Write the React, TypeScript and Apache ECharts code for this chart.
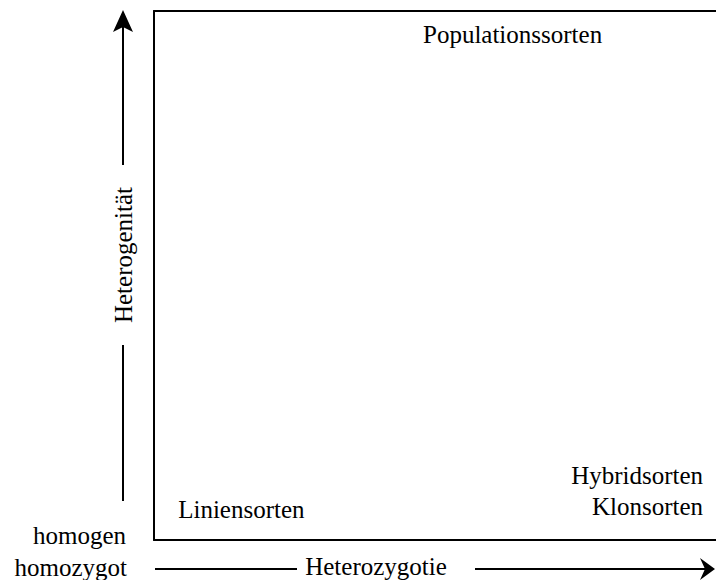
import React, { useEffect, useRef } from "react";
import * as echarts from "echarts";

// Conceptual placement of cultivar types (0–100 on both axes)
const categories = ["Liniensorten", "Populationssorten", "Hybridsorten", "Klonsorten"];
const heterozygosity = [4.3, 63.8, 97.7, 97.7];
const heterogeneity = [5.8, 95.6, 12.2, 6.4];

const xAxisName = "Heterozygotie";
const yAxisName = "Heterogenität";
const xStartLabel = "homozygot";
const yStartLabel = "homogen";

const FONT = "'Liberation Serif', 'Times New Roman', serif";

export default function App() {
  const ref = useRef<HTMLDivElement>(null);

  useEffect(() => {
    if (!ref.current) return;
    const chart = echarts.init(ref.current, undefined, { renderer: "svg" });

    const data = categories.map((name, i) => {
      const x = heterozygosity[i];
      const align = x < 20 ? "left" : x > 80 ? "right" : "center";
      return {
        name,
        value: [x, heterogeneity[i]],
        label: { align },
      };
    });

    const lineStyle = { stroke: "#000", lineWidth: 2 };
    const textStyle = (text: string, align: string) => ({
      text,
      fill: "#000",
      fontSize: 25,
      fontFamily: FONT,
      textAlign: align,
      align,
      textVerticalAlign: "middle",
      verticalAlign: "middle",
    });

    const axisLine = { show: true, lineStyle: { color: "#000", width: 2 } };
    const hidden = {
      axisTick: { show: false },
      axisLabel: { show: false },
      splitLine: { show: false },
    };

    chart.setOption({
      animation: false,
      backgroundColor: "#fff",
      textStyle: { fontFamily: FONT },
      grid: {
        left: 154,
        top: 11,
        right: 0,
        bottom: 40,
      },
      xAxis: [
        { type: "value", min: 0, max: 100, position: "bottom", axisLine, ...hidden },
        { type: "value", min: 0, max: 100, position: "top", axisLine, ...hidden },
      ],
      yAxis: {
        type: "value",
        min: 0,
        max: 100,
        position: "left",
        axisLine,
        ...hidden,
      },
      series: [
        {
          type: "scatter",
          symbolSize: 1,
          itemStyle: { color: "transparent" },
          data,
          label: {
            show: true,
            position: "inside",
            formatter: "{b}",
            color: "#000",
            opacity: 1,
            textBorderWidth: 0,
            fontSize: 25,
            fontFamily: FONT,
            verticalAlign: "middle",
          },
          emphasis: { disabled: true },
        },
      ],
      graphic: [
        // vertical arrow
        { type: "line", shape: { x1: 123, y1: 27, x2: 123, y2: 165 }, style: lineStyle },
        { type: "line", shape: { x1: 123, y1: 345, x2: 123, y2: 501 }, style: lineStyle },
        {
          type: "polygon",
          shape: { points: [[123, 10], [113, 32], [123, 27], [133, 32]] },
          style: { fill: "#000" },
        },
        {
          type: "text",
          x: 123,
          y: 255,
          rotation: Math.PI / 2,
          style: textStyle(yAxisName, "center"),
        },
        // horizontal arrow
        { type: "line", shape: { x1: 155, y1: 569, x2: 297, y2: 569 }, style: lineStyle },
        { type: "line", shape: { x1: 475, y1: 569, x2: 706, y2: 569 }, style: lineStyle },
        {
          type: "polygon",
          shape: { points: [[715, 569], [700, 558], [705, 569], [700, 580]] },
          style: { fill: "#000" },
        },
        {
          type: "text",
          x: 376,
          y: 566,
          style: textStyle(xAxisName, "center"),
        },
        // start labels
        { type: "text", x: 126, y: 535, style: textStyle(yStartLabel, "right") },
        { type: "text", x: 127, y: 567, style: textStyle(xStartLabel, "right") },
      ],
    });

    return () => chart.dispose();
  }, []);

  return (
    <div
      ref={ref}
      style={{ position: "absolute", left: 0, top: 0, width: 716, height: 580 }}
    />
  );
}
